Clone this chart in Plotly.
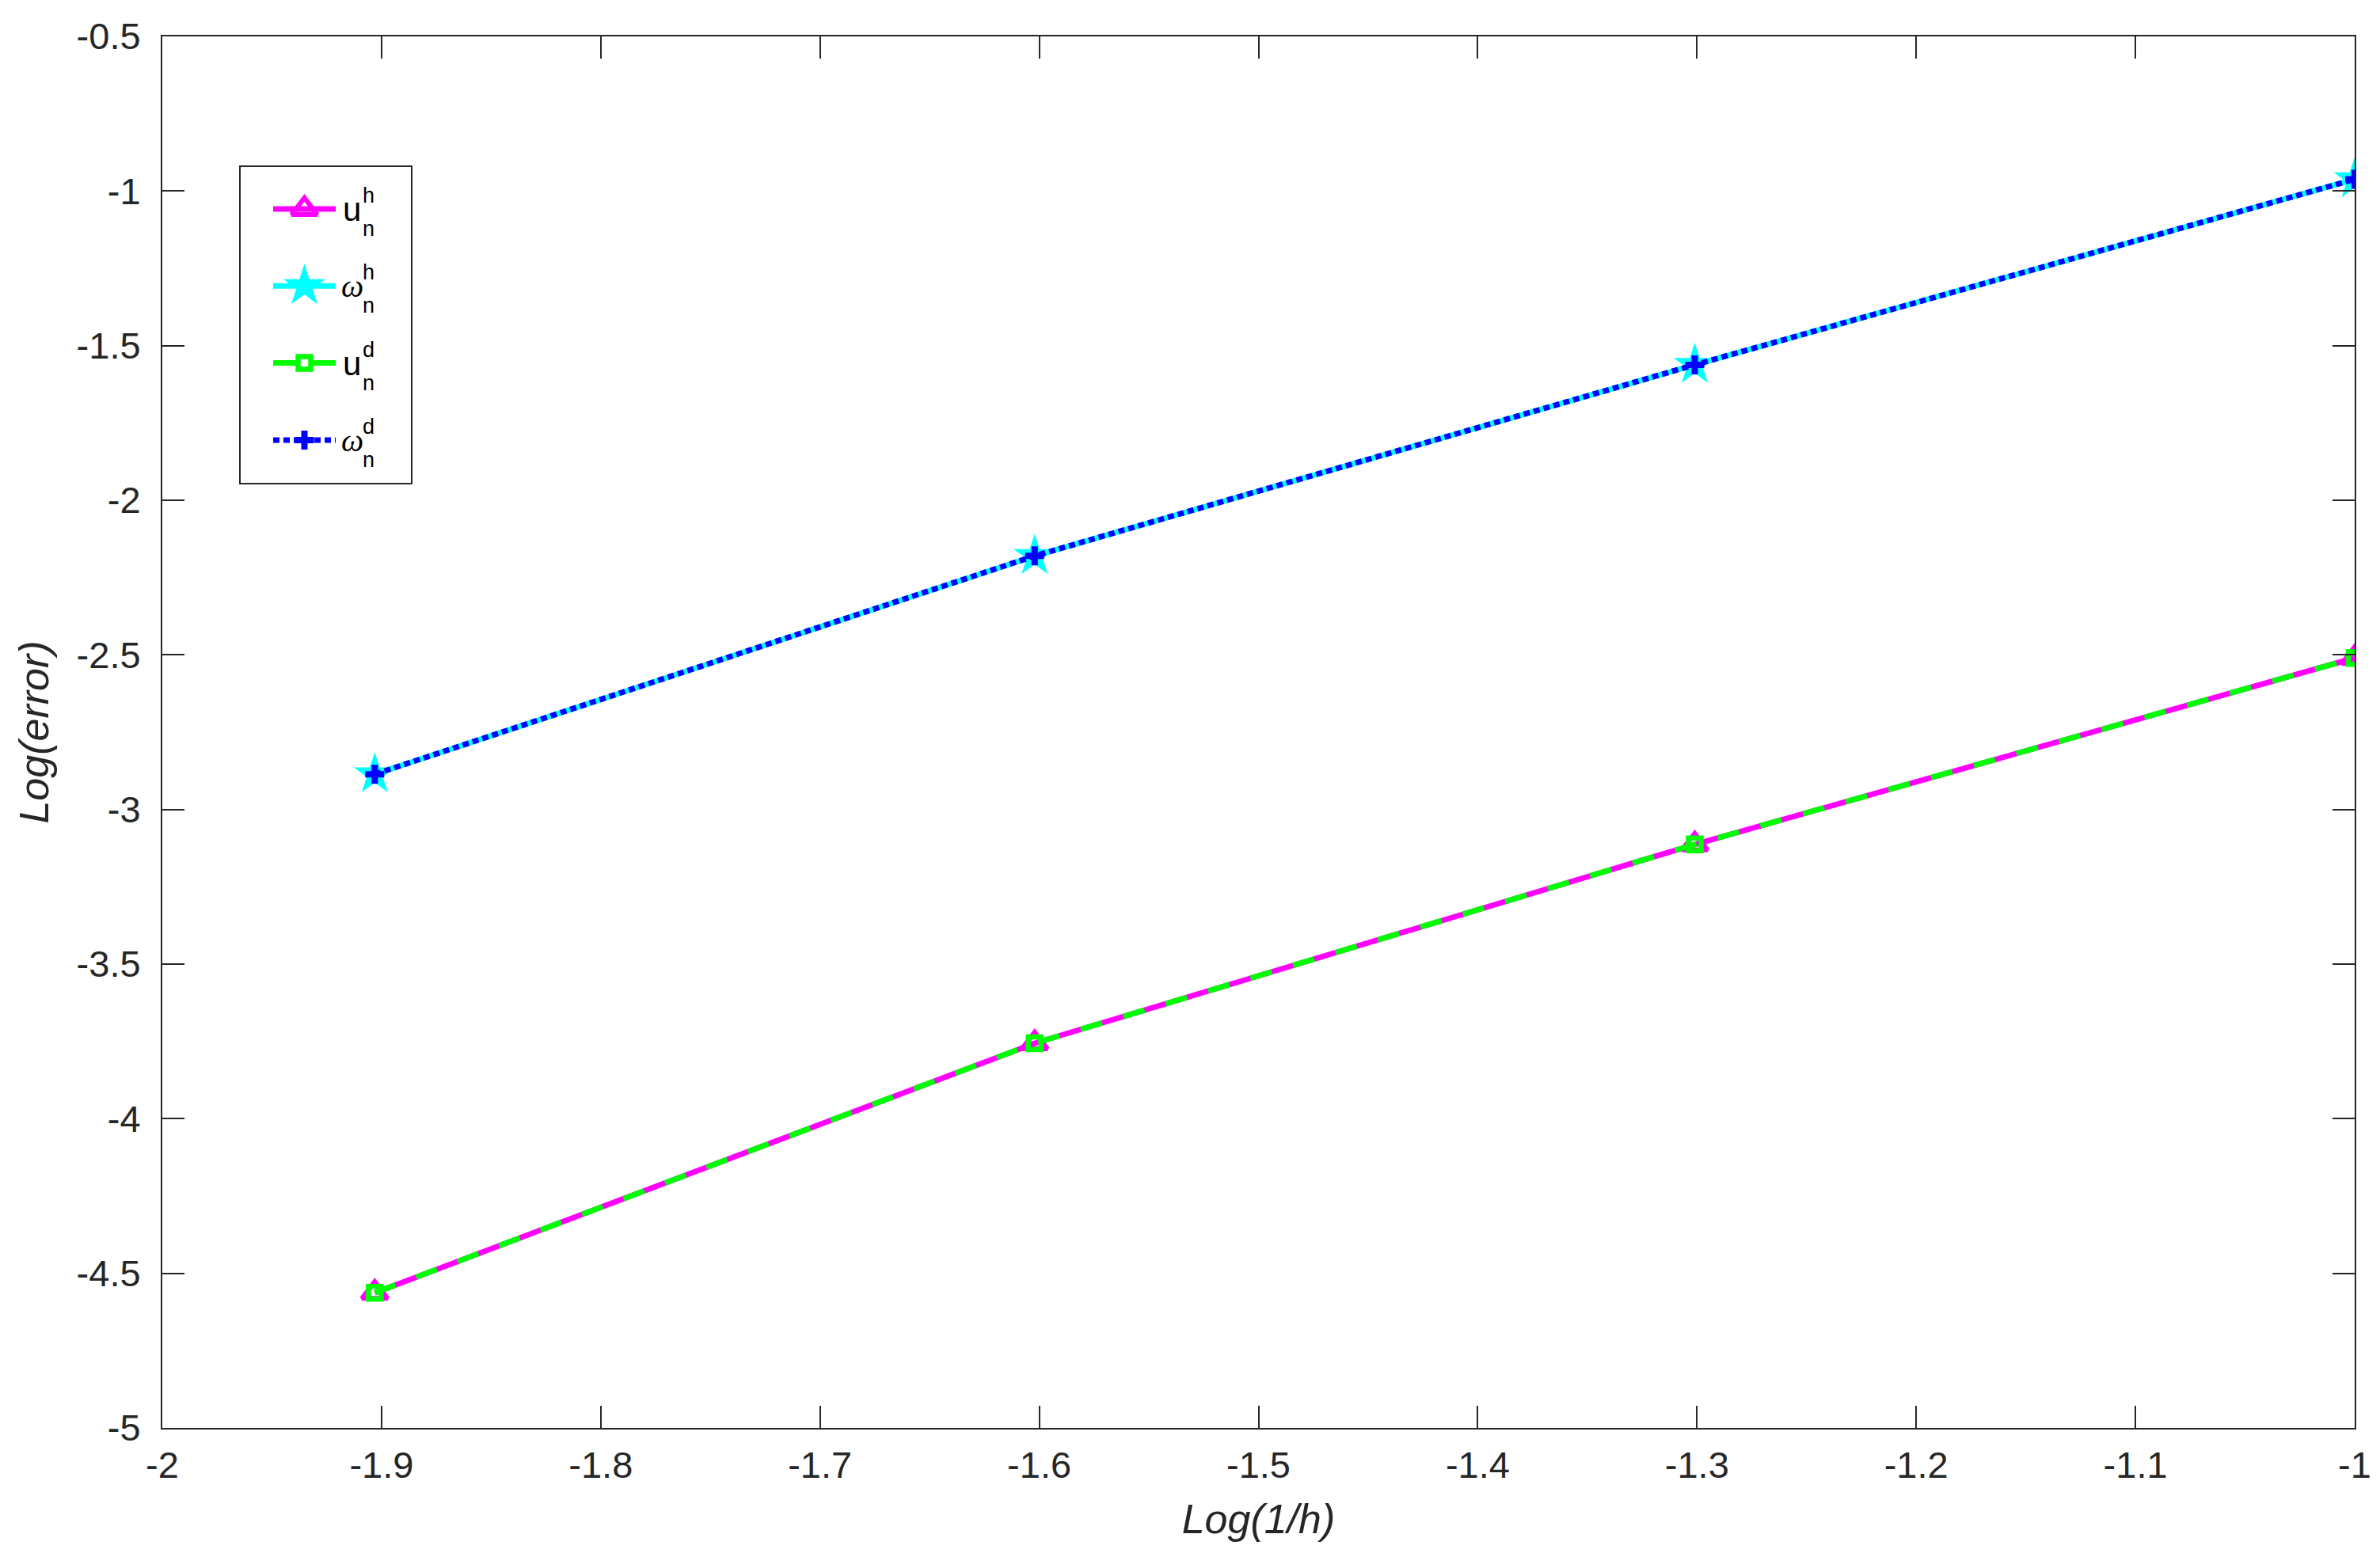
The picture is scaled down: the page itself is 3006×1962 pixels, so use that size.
import plotly.graph_objects as go

# log10(1/h) values and log10 of the errors
log_inv_h = [-1.9031, -1.6021, -1.3010, -1.0]
err_u_h = [-4.563, -3.756, -3.113, -2.510]
err_w_h = [-2.886, -2.180, -1.562, -0.962]
err_u_d = [-4.563, -3.756, -3.113, -2.510]
err_w_d = [-2.886, -2.180, -1.562, -0.962]

x_ticks = [-2, -1.9, -1.8, -1.7, -1.6, -1.5, -1.4, -1.3, -1.2, -1.1, -1]
y_ticks = [-5, -4.5, -4, -3.5, -3, -2.5, -2, -1.5, -1, -0.5]

W, H = 3006, 1962
L, R, T, B = 197, 40, 38, 166
FONT = "Liberation Sans, Arial, sans-serif"
AX = "#262626"


def px(x):
    return (x - L) / (W - L - R)


def py(y):
    return (H - B - y) / (H - T - B)


# series: (values, main letter, superscript, line style, marker style, key split)
series = [
    (err_u_h, "u", "h",
     dict(color="#FF00FF", width=7),
     dict(symbol="triangle-up-open", size=28, color="#FF00FF",
          line=dict(color="#FF00FF", width=6)), False),
    (err_w_h, "ω", "h",
     dict(color="#00FFFF", width=7),
     dict(symbol="star", size=40, color="#00FFFF", line=dict(width=0)), False),
    (err_u_d, "u", "d",
     dict(color="#00FF00", width=7, dash="28px,28px"),
     dict(symbol="square-open", size=16, color="#00FF00",
          line=dict(color="#00FF00", width=6.5)), True),
    (err_w_d, "ω", "d",
     dict(color="#0000FF", width=7, dash="8px,5px"),
     dict(symbol="cross", size=20, color="#0000FF", line=dict(width=0)), False),
]

fig = go.Figure()

for vals, main, sup, line, marker, split in series:
    fig.add_trace(go.Scatter(
        x=log_inv_h, y=vals, mode="lines+markers", showlegend=False,
        line=line, marker=marker))

# hand-made legend: keys drawn on a small hidden subplot inside the box
for row, (vals, main, sup, line, marker, split) in enumerate(series):
    key_line = dict(line)
    if split:
        # dashed key: two dashes either side of the marker
        key_line["dash"] = "solid"
        kx = [0, 0.41, None, 0.59, 1]
        ky = [row, row, None, row, row]
    else:
        kx = [0, 1]
        ky = [row, row]
    fig.add_trace(go.Scatter(
        x=kx, y=ky, mode="lines", line=key_line,
        xaxis="x2", yaxis="y2", showlegend=False, hoverinfo="skip",
        cliponaxis=False))
    fig.add_trace(go.Scatter(
        x=[0.5], y=[row], mode="markers", marker=marker,
        xaxis="x2", yaxis="y2", showlegend=False, hoverinfo="skip",
        cliponaxis=False))

shapes = [dict(type="rect", xref="paper", yref="paper",
               x0=px(295), x1=px(512), y0=py(603), y1=py(202),
               line=dict(color=AX, width=2), fillcolor="white", layer="below")]

annotations = []
row_gap = 97.3
for row, (vals, main, sup, line, marker, split) in enumerate(series):
    yc = 256 + row_gap * row
    is_greek = main == "ω"
    annotations.append(dict(
        xref="paper", yref="paper", x=px(422 if is_greek else 424), y=py(yc + 0.5),
        xanchor="left", yanchor="middle", showarrow=False, borderpad=0,
        text="<i>ω</i>" if is_greek else main,
        font=dict(family="Liberation Serif, serif" if is_greek else FONT,
                  size=40 if is_greek else 42, color="black")))
    annotations.append(dict(
        xref="paper", yref="paper", x=px(449), y=py(yc - 17),
        xanchor="left", yanchor="middle", showarrow=False, borderpad=0, text=sup,
        font=dict(family=FONT, size=27, color="black")))
    annotations.append(dict(
        xref="paper", yref="paper", x=px(449), y=py(yc + 25),
        xanchor="left", yanchor="middle", showarrow=False, borderpad=0, text="n",
        font=dict(family=FONT, size=27, color="black")))

fig.update_layout(
    width=W, height=H,
    margin=dict(l=L, r=R, t=T, b=B, autoexpand=False),
    paper_bgcolor="white", plot_bgcolor="white",
    font=dict(family=FONT, color=AX),
    shapes=shapes,
    annotations=annotations,
    showlegend=False,
    xaxis=dict(
        range=[-2, -1], tickvals=x_ticks, ticktext=[f"{v:g}" for v in x_ticks],
        showgrid=False, zeroline=False, showline=True, linecolor=AX, linewidth=2,
        mirror="ticks", ticks="inside", ticklen=28, tickwidth=2, tickcolor=AX,
        tickfont=dict(size=47, color=AX), ticklabelstandoff=5,
        title=dict(text="<i>Log(1/h)</i>", font=dict(size=52, color=AX), standoff=24)),
    yaxis=dict(
        range=[-5, -0.5], tickvals=y_ticks, ticktext=[f"{v:g}" for v in y_ticks],
        showgrid=False, zeroline=False, showline=True, linecolor=AX, linewidth=2,
        mirror="ticks", ticks="inside", ticklen=28, tickwidth=2, tickcolor=AX,
        tickfont=dict(size=47, color=AX), ticklabelstandoff=16,
        title=dict(text="<i>Log(error)</i>", font=dict(size=52, color=AX), standoff=18)),
    xaxis2=dict(domain=[px(337), px(416)], range=[0, 1], anchor="y2", visible=False,
                fixedrange=True),
    yaxis2=dict(domain=[py(256 + 3.5 * row_gap), py(256 - 0.5 * row_gap)],
                range=[3.5, -0.5], anchor="x2", visible=False, fixedrange=True),
)

fig.write_html("out.html")
